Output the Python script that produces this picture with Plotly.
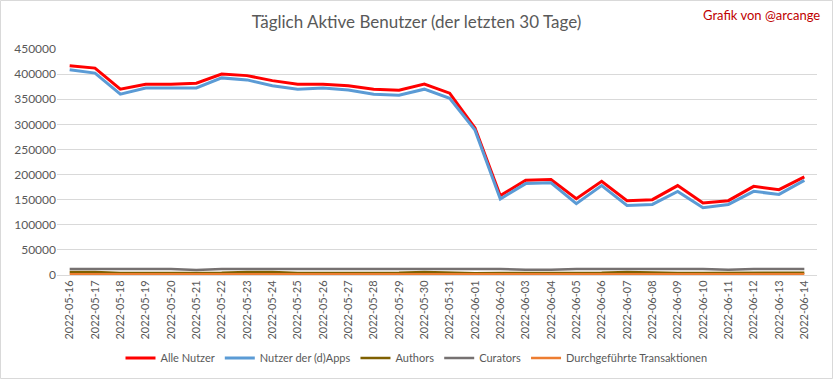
import plotly.graph_objects as go

dates = ["2022-05-16","2022-05-17","2022-05-18","2022-05-19","2022-05-20","2022-05-21",
         "2022-05-22","2022-05-23","2022-05-24","2022-05-25","2022-05-26","2022-05-27",
         "2022-05-28","2022-05-29","2022-05-30","2022-05-31","2022-06-01","2022-06-02",
         "2022-06-03","2022-06-04","2022-06-05","2022-06-06","2022-06-07","2022-06-08",
         "2022-06-09","2022-06-10","2022-06-11","2022-06-12","2022-06-13","2022-06-14"]

alle_nutzer = [416500, 412000, 370000, 380000, 380000, 382000, 400000, 397000, 387000, 380000,
               380000, 377000, 370000, 368000, 380000, 362000, 293000, 158000, 188500, 190000,
               152000, 186500, 148000, 150000, 178000, 143500, 148000, 176500, 170000, 195500]
dapps_nutzer = [408500, 402000, 360000, 372500, 372500, 372500, 392500, 388500, 377000, 370000,
                372500, 368500, 360000, 358000, 370000, 352000, 288500, 151500, 182000, 183500,
                142000, 178000, 138500, 140500, 166500, 134000, 140500, 166500, 160500, 188500]
authors = [6000, 6000, 4000, 4000, 4000, 4000, 4500, 6000, 6000, 4000,
           4000, 4000, 4000, 4500, 6000, 4500, 3500, 4000, 4000, 4000,
           4000, 4500, 6000, 4500, 4000, 4000, 4000, 4000, 4000, 4500]
curators = [12000, 12000, 12000, 12000, 12000, 10000, 12000, 12000, 12000, 12000,
            12000, 12000, 12000, 12000, 12000, 12000, 12000, 12000, 10500, 10500,
            12000, 12000, 12000, 12000, 12000, 12000, 10500, 12000, 12000, 12000]
transaktionen = [1500, 1500, 1500, 1500, 1500, 1500, 1500, 1500, 1500, 1500,
                 1500, 1500, 1500, 1500, 1500, 1500, 800, 1500, 1500, 1500,
                 1500, 1500, 1500, 1500, 1500, 1500, 1500, 1500, 1500, 1500]
y_ticks = [0, 50000, 100000, 150000, 200000, 250000, 300000, 350000, 400000, 450000]

FONT = "Lato, 'Open Sans', sans-serif"

series = [
    ("Alle Nutzer", alle_nutzer, "#ff0000", 3),
    ("Nutzer der (d)Apps", dapps_nutzer, "#5b9bd5", 3),
    ("Authors", authors, "#7f6000", 2.5),
    ("Curators", curators, "#767171", 2.5),
    ("Durchgeführte Transaktionen", transaktionen, "#ed7d31", 2.5),
]

fig = go.Figure()
for name, vals, color, w in series:
    fig.add_trace(go.Scatter(x=dates, y=vals, name=name, mode="lines",
                             line=dict(color=color, width=w)))

W, H = 833, 379
ml, mr, mt, mb = 57, 16, 49, 104
pw, ph = W - ml - mr, H - mt - mb

fig.update_layout(
    width=W, height=H,
    margin=dict(l=ml, r=mr, t=mt, b=mb, pad=0, autoexpand=False),
    paper_bgcolor="white", plot_bgcolor="white",
    font=dict(family=FONT, size=11, color="#595959"),
    title=dict(text="Täglich Aktive Benutzer (der letzten 30 Tage)",
               x=0.5, xref="container", xanchor="center",
               y=1 - 22 / H, yref="container", yanchor="middle",
               font=dict(size=17, color="#595959", family=FONT)),
    showlegend=True,
    legend=dict(orientation="h", x=0.5, xanchor="center", xref="container",
                y=(H - 358) / H, yref="container", yanchor="middle",
                font=dict(size=11, color="#595959"), itemwidth=30,
                traceorder="normal"),
    xaxis=dict(type="category", range=[-0.5, len(dates) - 0.5],
               tickangle=-90, showgrid=False, showline=True,
               linecolor="#d9d9d9", linewidth=1, ticks="",
               tickfont=dict(size=11, color="#595959"), fixedrange=True),
    yaxis=dict(range=[0, 450000], tickvals=y_ticks,
               ticktext=[str(v) for v in y_ticks],
               showgrid=True, gridcolor="#d9d9d9", gridwidth=1,
               zeroline=False, showline=False, ticks="",
               tickfont=dict(size=12, color="#595959"), fixedrange=True),
    annotations=[dict(text="Grafik von @arcange", xref="paper", yref="paper",
                      x=(822 - ml) / pw, y=(H - 15 - mb) / ph,
                      xanchor="right", yanchor="middle", showarrow=False,
                      font=dict(size=13, color="#c00000", family=FONT))],
    shapes=[dict(type="rect", xref="paper", yref="paper",
                 x0=(0.5 - ml) / pw, x1=(W - 0.5 - ml) / pw,
                 y0=(-mb + 0.5) / ph, y1=(ph + mt - 0.5) / ph,
                 line=dict(color="#d9d9d9", width=1), layer="below")],
)

fig.write_html("out.html", config={"displayModeBar": False},
               post_script="document.body.style.margin='0';document.body.style.overflow='hidden';")
